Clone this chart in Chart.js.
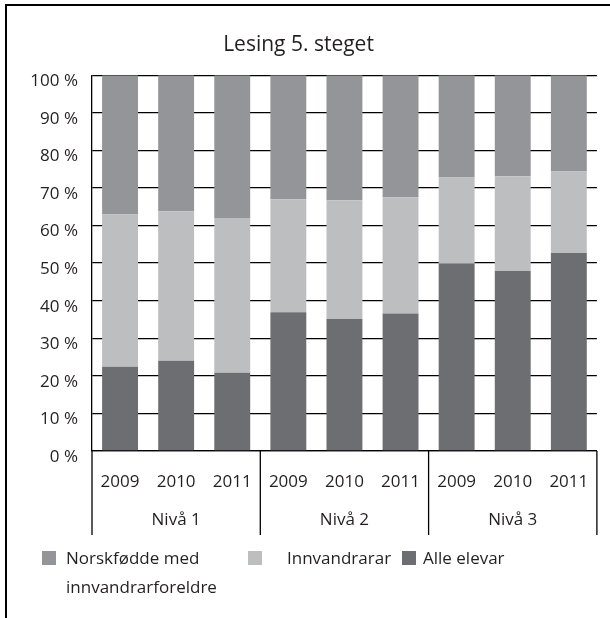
<!DOCTYPE html>
<html>
<head>
<meta charset="utf-8">
<script src="https://cdn.jsdelivr.net/npm/chart.js@4.4.0/dist/chart.umd.min.js"></script>
<style>
  body { margin: 0; background: #fff; }
  #wrap { position: relative; width: 610px; height: 618px; overflow: hidden; }
  #chart { position: absolute; left: 0; top: 0; }
  .frameTop { position: absolute; left: 5px; top: 4px; width: 605px; height: 2px; background: #000; }
  .frameLeft { position: absolute; left: 5px; top: 4px; width: 2px; height: 614px; background: #000; }
  #legend { position: absolute; left: 42px; top: 543px; font-family: "Open Sans", sans-serif; font-size: 17px; color: #231f20; }
  .item { position: absolute; top: 0; white-space: nowrap; line-height: 29px; }
  .box { position: absolute; left: 0; top: 8px; width: 14px; height: 14px; }
  .txt { position: absolute; top: 0; }
</style>
</head>
<body>
<div id="wrap">
  <canvas id="chart" width="610" height="618"></canvas>
  <div class="frameTop"></div>
  <div class="frameLeft"></div>
  <div id="legend"></div>
</div>
<script>
// data
const years = ['2009', '2010', '2011', '2009', '2010', '2011', '2009', '2010', '2011'];
const groups = ['Nivå 1', 'Nivå 2', 'Nivå 3'];
const alleElevar = [22.4, 24.0, 20.8, 36.9, 35.1, 36.6, 49.9, 47.9, 52.7];
const innvandrarar = [40.5, 39.8, 41.2, 30.1, 31.6, 30.9, 22.9, 25.2, 21.7];
const norskfodde = [37.1, 36.2, 38.0, 33.0, 33.3, 32.5, 27.2, 26.9, 25.6];

const textColor = '#231f20';
const fontFam = '"Open Sans", sans-serif';

// group labels under the years + separators
const groupAxis = {
    id: 'groupAxis',
    afterDraw(chart) {
        const ctx = chart.ctx;
        const x = chart.scales.x;
        const area = chart.chartArea;
        const top = area.bottom;
        const bottom = x.bottom;
        const edges = [area.left];
        for (let g = 1; g < groups.length; g++) {
            edges.push((x.getPixelForValue(g * 3 - 1) + x.getPixelForValue(g * 3)) / 2);
        }
        edges.push(area.right);
        ctx.save();
        ctx.strokeStyle = '#000';
        ctx.lineWidth = 1.3;
        edges.forEach(e => {
            ctx.beginPath();
            ctx.moveTo(e, top);
            ctx.lineTo(e, bottom);
            ctx.stroke();
        });
        ctx.fillStyle = textColor;
        ctx.font = '17px ' + fontFam;
        ctx.textAlign = 'center';
        ctx.textBaseline = 'middle';
        groups.forEach((g, i) => {
            ctx.fillText(g, (edges[i] + edges[i + 1]) / 2, top + 69);
        });
        ctx.restore();
    }
};

const chart = new Chart(document.getElementById('chart').getContext('2d'), {
    type: 'bar',
    data: {
        labels: years,
        datasets: [
            { label: 'Alle elevar', data: alleElevar, backgroundColor: '#6d6e71' },
            { label: 'Innvandrarar', data: innvandrarar, backgroundColor: '#bcbec0' },
            { label: 'Norskfødde med innvandrarforeldre', data: norskfodde, backgroundColor: '#939598' }
        ]
    },
    options: {
        responsive: false,
        animation: false,
        datasets: {
            bar: { barPercentage: 0.64, categoryPercentage: 1.0 }
        },
        layout: { padding: { left: 0, right: 13, top: 0, bottom: 83 } },
        scales: {
            x: {
                stacked: true,
                grid: { display: false, drawTicks: false },
                border: { display: true, color: '#000', width: 1.3 },
                ticks: { color: textColor, font: { family: fontFam, size: 17 }, padding: 21, maxRotation: 0, autoSkip: false },
                afterFit: scale => { scale.height = 84; }
            },
            y: {
                stacked: true,
                min: 0,
                max: 100,
                grid: { color: '#000', lineWidth: 1.3, drawTicks: false },
                border: { display: true, color: '#000', width: 1.3 },
                ticks: {
                    stepSize: 10,
                    color: textColor,
                    font: { family: fontFam, size: 17 },
                    padding: 14,
                    labelOffset: 6,
                    callback: v => v + ' %'
                },
                afterFit: scale => { scale.width = 92; }
            }
        },
        plugins: {
            legend: { display: false },
            tooltip: { enabled: false },
            title: {
                display: true,
                text: 'Lesing 5. steget',
                color: textColor,
                font: { family: fontFam, size: 21, weight: 'normal' },
                padding: { top: 32, bottom: 18 }
            }
        }
    },
    plugins: [groupAxis]
});

// html legend, top of stack first
const legendPos = [0, 206, 360];
const legendText = [['Norskfødde med', 'innvandrarforeldre'], ['Innvandrarar'], ['Alle elevar']];
const legend = document.getElementById('legend');
chart.data.datasets.slice().reverse().forEach((ds, i) => {
    const item = document.createElement('div');
    item.className = 'item';
    item.style.left = legendPos[i] + 'px';
    item.innerHTML = '<div class="box" style="background:' + ds.backgroundColor + '"></div>' +
        '<div class="txt" style="left:' + (i === 2 ? 21 : i === 1 ? 39 : 24) + 'px">' + legendText[i].join('<br>') + '</div>';
    legend.appendChild(item);
});
</script>
</body>
</html>
